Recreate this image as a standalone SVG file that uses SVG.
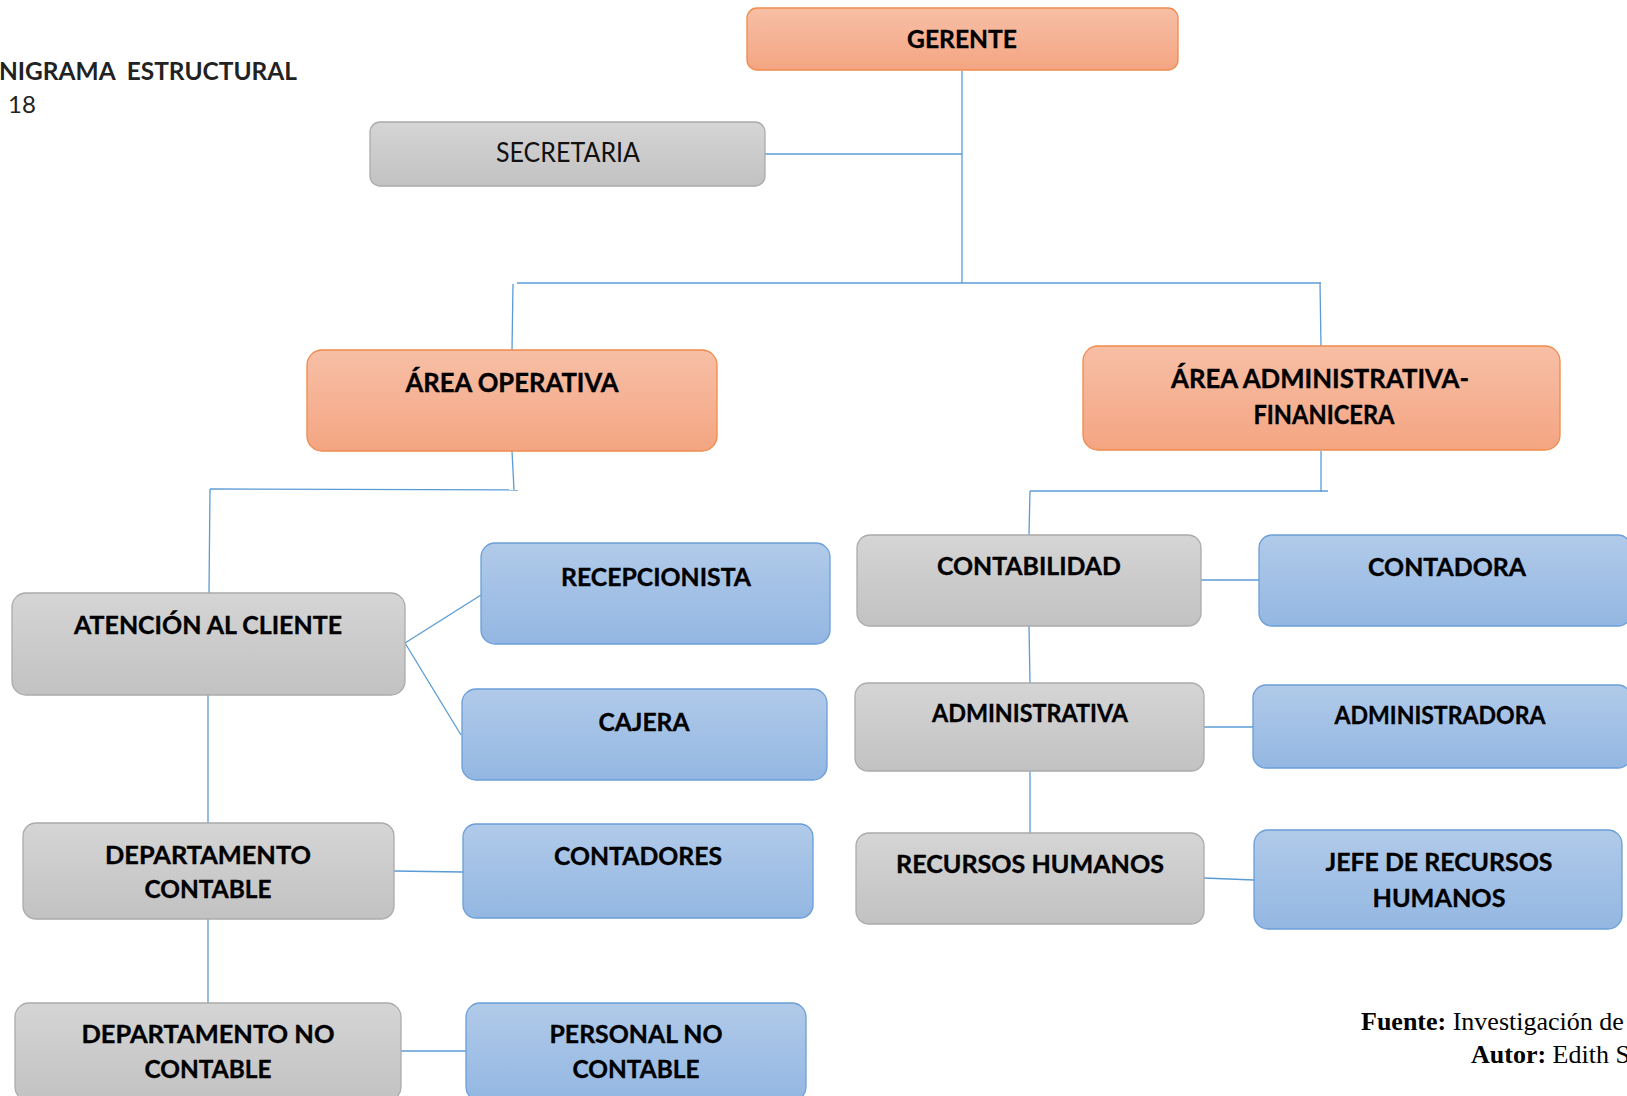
<svg xmlns="http://www.w3.org/2000/svg" width="1627" height="1096" viewBox="0 0 1627 1096">
  <defs>
    <linearGradient id="gOrange" x1="0" y1="0" x2="0" y2="1">
      <stop offset="0" stop-color="#F7BFA6"/>
      <stop offset="1" stop-color="#F4A582"/>
    </linearGradient>
    <linearGradient id="gGray" x1="0" y1="0" x2="0" y2="1">
      <stop offset="0" stop-color="#D5D5D5"/>
      <stop offset="1" stop-color="#C2C2C2"/>
    </linearGradient>
    <linearGradient id="gBlue" x1="0" y1="0" x2="0" y2="1">
      <stop offset="0" stop-color="#B1CAE9"/>
      <stop offset="1" stop-color="#93B7E2"/>
    </linearGradient>
    <style>
      .orange { fill: url(#gOrange); stroke: #F08A4B; stroke-width: 1.3; }
      .gray { fill: url(#gGray); stroke: #ABABAB; stroke-width: 1.3; }
      .blue { fill: url(#gBlue); stroke: #6A9FD8; stroke-width: 1.3; }
      .lbl { font-family: Lato, "Open Sans", sans-serif; font-weight: bold; font-size: 25px; fill: #000; text-anchor: middle; stroke: #000; stroke-width: 0.35; }
      .big { font-size: 26px; }
      .reg { font-weight: normal; fill: #111; stroke: none; font-size: 27px; }
      .conn path { fill: none; stroke: #5B9BD5; stroke-width: 1.3; }
      .head { font-family: Lato, "Open Sans", sans-serif; font-size: 24px; fill: #222; }
      .src { font-family: "Liberation Serif", "Times New Roman", serif; font-size: 26px; fill: #000; }
    </style>
  </defs>

  <rect width="1627" height="1096" fill="#FFFFFF"/>

  <!-- heading at top left -->
  <text class="head" x="-1" y="80" font-weight="bold" textLength="298" lengthAdjust="spacingAndGlyphs" xml:space="preserve">NIGRAMA  ESTRUCTURAL</text>
  <text class="head" x="8" y="113">18</text>

  <!-- connectors -->
  <g id="connectors" class="conn">
    <path d="M962 71 V283"/>
    <path d="M765 154 H962"/>
    <path d="M517 283 H1321"/>
    <path d="M513 284 L512 350"/>
    <path d="M1320 283 L1321 346"/>
    <path d="M512 451 L514 490"/>
    <path d="M210 489 L518 490"/>
    <path d="M210 489 L209 593"/>
    <path d="M405 643 L481 595"/>
    <path d="M405 643 L461 735"/>
    <path d="M208 695 V823"/>
    <path d="M394 871 L463 872"/>
    <path d="M208 919 V1003"/>
    <path d="M400 1051 H466"/>
    <path d="M1321 451 V492"/>
    <path d="M1030 491 H1328"/>
    <path d="M1030 491 L1029 535"/>
    <path d="M1029 626 L1030 683"/>
    <path d="M1030 771 V833"/>
    <path d="M1201 580 L1259 580"/>
    <path d="M1204 727 H1253"/>
    <path d="M1204 878 L1254 880"/>
  </g>

  <!-- nodes -->
  <g id="gerente">
    <rect class="orange" x="747" y="8" width="431" height="62" rx="10"/>
    <text class="lbl" x="962" y="48" textLength="110" lengthAdjust="spacingAndGlyphs">GERENTE</text>
  </g>

  <g id="secretaria">
    <rect class="gray" x="370" y="122" width="395" height="64" rx="10"/>
    <text class="lbl reg" x="568" y="162" textLength="144" lengthAdjust="spacingAndGlyphs">SECRETARIA</text>
  </g>

  <g id="area-operativa">
    <rect class="orange" x="307" y="350" width="410" height="101" rx="15"/>
    <text class="lbl big" x="512" y="392" textLength="213" lengthAdjust="spacingAndGlyphs">ÁREA OPERATIVA</text>
  </g>

  <g id="area-administrativa">
    <rect class="orange" x="1083" y="346" width="477" height="104" rx="15"/>
    <text class="lbl big" x="1320" y="388" textLength="298" lengthAdjust="spacingAndGlyphs">ÁREA ADMINISTRATIVA-</text>
    <text class="lbl big" x="1324" y="424" textLength="141" lengthAdjust="spacingAndGlyphs">FINANICERA</text>
  </g>

  <g id="atencion-cliente">
    <rect class="gray" x="12" y="593" width="393" height="102" rx="14"/>
    <text class="lbl" x="208" y="634" textLength="268" lengthAdjust="spacingAndGlyphs">ATENCIÓN AL CLIENTE</text>
  </g>

  <g id="recepcionista">
    <rect class="blue" x="481" y="543" width="349" height="101" rx="14"/>
    <text class="lbl" x="656" y="586" textLength="190" lengthAdjust="spacingAndGlyphs">RECEPCIONISTA</text>
  </g>

  <g id="cajera">
    <rect class="blue" x="462" y="689" width="365" height="91" rx="14"/>
    <text class="lbl" x="644" y="731" textLength="91" lengthAdjust="spacingAndGlyphs">CAJERA</text>
  </g>

  <g id="departamento-contable">
    <rect class="gray" x="23" y="823" width="371" height="96" rx="13"/>
    <text class="lbl" x="208" y="864" textLength="206" lengthAdjust="spacingAndGlyphs">DEPARTAMENTO</text>
    <text class="lbl" x="208" y="898" textLength="127" lengthAdjust="spacingAndGlyphs">CONTABLE</text>
  </g>

  <g id="contadores">
    <rect class="blue" x="463" y="824" width="350" height="94" rx="13"/>
    <text class="lbl" x="638" y="865" textLength="168" lengthAdjust="spacingAndGlyphs">CONTADORES</text>
  </g>

  <g id="departamento-no-contable">
    <rect class="gray" x="15" y="1003" width="386" height="98" rx="14"/>
    <text class="lbl" x="208" y="1043" textLength="253" lengthAdjust="spacingAndGlyphs">DEPARTAMENTO NO</text>
    <text class="lbl" x="208" y="1078" textLength="127" lengthAdjust="spacingAndGlyphs">CONTABLE</text>
  </g>

  <g id="personal-no-contable">
    <rect class="blue" x="466" y="1003" width="340" height="98" rx="14"/>
    <text class="lbl" x="636" y="1043" textLength="173" lengthAdjust="spacingAndGlyphs">PERSONAL NO</text>
    <text class="lbl" x="636" y="1078" textLength="127" lengthAdjust="spacingAndGlyphs">CONTABLE</text>
  </g>

  <g id="contabilidad">
    <rect class="gray" x="857" y="535" width="344" height="91" rx="13"/>
    <text class="lbl" x="1029" y="575" textLength="184" lengthAdjust="spacingAndGlyphs">CONTABILIDAD</text>
  </g>

  <g id="administrativa">
    <rect class="gray" x="855" y="683" width="349" height="88" rx="13"/>
    <text class="lbl" x="1030" y="722" textLength="196" lengthAdjust="spacingAndGlyphs">ADMINISTRATIVA</text>
  </g>

  <g id="recursos-humanos">
    <rect class="gray" x="856" y="833" width="348" height="91" rx="13"/>
    <text class="lbl" x="1030" y="873" textLength="268" lengthAdjust="spacingAndGlyphs">RECURSOS HUMANOS</text>
  </g>

  <g id="contadora">
    <rect class="blue" x="1259" y="535" width="372" height="91" rx="13"/>
    <text class="lbl" x="1447" y="576" textLength="158" lengthAdjust="spacingAndGlyphs">CONTADORA</text>
  </g>

  <g id="administradora">
    <rect class="blue" x="1253" y="685" width="378" height="83" rx="13"/>
    <text class="lbl" x="1440" y="724" textLength="211" lengthAdjust="spacingAndGlyphs">ADMINISTRADORA</text>
  </g>

  <g id="jefe-recursos-humanos">
    <rect class="blue" x="1254" y="830" width="368" height="99" rx="14"/>
    <text class="lbl" x="1439" y="871" textLength="227" lengthAdjust="spacingAndGlyphs">JEFE DE RECURSOS</text>
    <text class="lbl" x="1439" y="907" textLength="133" lengthAdjust="spacingAndGlyphs">HUMANOS</text>
  </g>

  <!-- source and author notes -->
  <text class="src" x="1361" y="1030"><tspan font-weight="bold">Fuente:</tspan> Investigación de</text>
  <text class="src" x="1471" y="1063"><tspan font-weight="bold">Autor:</tspan> Edith S</text>
</svg>
